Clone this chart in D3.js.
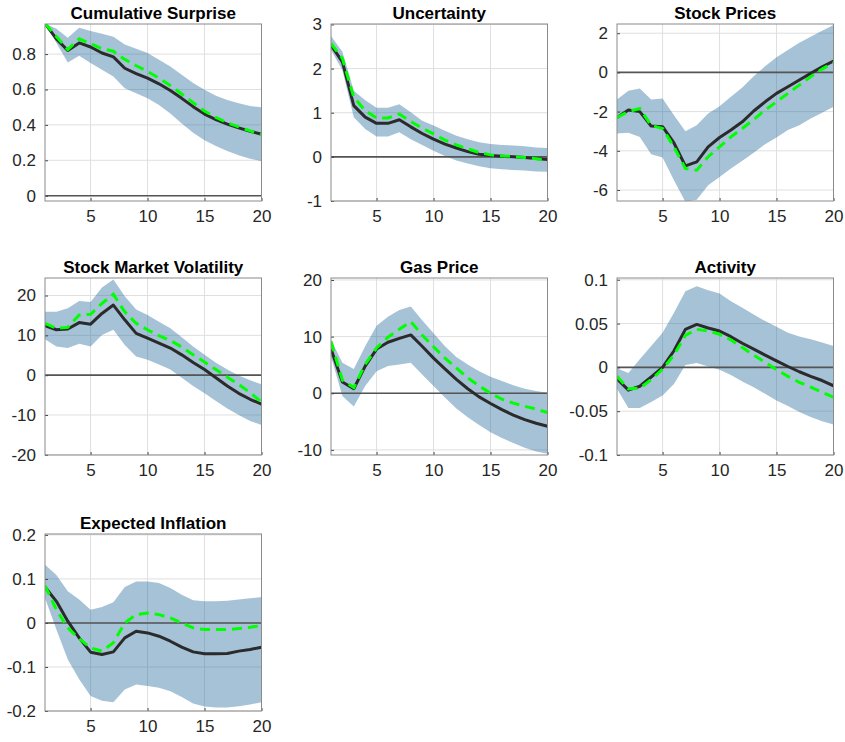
<!DOCTYPE html>
<html>
<head>
<meta charset="utf-8">
<script src="https://cdn.jsdelivr.net/npm/d3@7"></script>
<style>
  body { margin: 0; background: #fff; }
  text { font-family: "Liberation Sans", Arial, sans-serif; }
</style>
</head>
<body>
<div id="chart-area"></div>
<script>
// horizons
var horizon = [1,2,3,4,5,6,7,8,9,10,11,12,13,14,15,16,17,18,19,20];
var xTicks = [5, 10, 15, 20];

// Cumulative Surprise
var surpriseMed = [0.973,0.886,0.82,0.863,0.84,0.806,0.784,0.72,0.69,0.664,0.632,0.594,0.55,0.503,0.461,0.43,0.404,0.383,0.364,0.347];
var surpriseAlt = [0.973,0.9,0.826,0.886,0.86,0.83,0.816,0.77,0.734,0.702,0.664,0.622,0.575,0.526,0.478,0.442,0.412,0.389,0.366,0.345];
var surpriseHi  = [0.973,0.943,0.892,0.949,0.93,0.915,0.898,0.854,0.83,0.806,0.768,0.73,0.683,0.636,0.598,0.565,0.541,0.522,0.507,0.499];
var surpriseLo  = [0.973,0.863,0.753,0.791,0.75,0.712,0.674,0.607,0.579,0.55,0.512,0.465,0.408,0.355,0.313,0.281,0.252,0.228,0.209,0.195];

// Uncertainty
var uncMed = [2.53,2.15,1.16,0.9,0.76,0.76,0.84,0.68,0.53,0.4,0.29,0.2,0.12,0.06,0.03,0.015,0,-0.015,-0.04,-0.06];
var uncAlt = [2.57,2.23,1.35,1.05,0.88,0.88,0.97,0.8,0.65,0.52,0.38,0.27,0.18,0.1,0.045,0.02,0.01,-0.015,-0.045,-0.09];
var uncHi  = [2.74,2.38,1.5,1.28,1.11,1.11,1.19,1.01,0.82,0.71,0.59,0.48,0.4,0.33,0.29,0.27,0.26,0.24,0.21,0.2];
var uncLo  = [2.42,1.96,0.9,0.63,0.46,0.46,0.56,0.4,0.27,0.14,0.02,-0.08,-0.15,-0.21,-0.26,-0.28,-0.3,-0.31,-0.33,-0.34];

// Stock Prices
var stockMed = [-2.3,-1.92,-2.0,-2.74,-2.77,-3.6,-4.77,-4.56,-3.8,-3.32,-2.94,-2.52,-1.97,-1.5,-1.07,-0.73,-0.39,-0.05,0.29,0.58];
var stockAlt = [-2.3,-2.0,-1.84,-2.7,-2.86,-3.8,-4.9,-4.99,-4.3,-3.8,-3.29,-2.86,-2.4,-1.92,-1.5,-1.07,-0.65,-0.22,0.17,0.49];
var stockHi  = [-1.38,-0.94,-0.82,-1.38,-1.33,-2.18,-3.0,-2.69,-2.09,-1.72,-1.24,-0.77,-0.19,0.32,0.77,1.14,1.51,1.82,2.13,2.42];
var stockLo  = [-3.11,-3.08,-3.29,-4.17,-4.34,-5.5,-6.6,-6.49,-5.76,-5.33,-4.9,-4.51,-4.1,-3.66,-3.32,-2.94,-2.69,-2.35,-2.06,-1.75];

// Stock Market Volatility
var volMed = [12.4,11.4,11.6,13.2,12.8,15.5,17.6,13.9,10.5,9.3,8.05,6.8,5.1,3.2,1.4,-0.66,-2.74,-4.56,-6.06,-7.3];
var volAlt = [13.0,11.8,12.0,15.1,15.3,18.0,20.3,15.9,13.0,11.4,9.9,8.7,7.05,5.1,3.3,1.4,-0.5,-2.3,-4.4,-6.7];
var volHi  = [15.9,15.9,16.8,18.6,18.4,22.0,24.0,19.8,16.5,15.1,13.4,11.8,9.5,7.2,5.1,3.1,1.4,-0.1,-1.3,-2.3];
var volLo  = [9.0,7.2,6.8,7.9,7.2,10.1,11.4,7.6,4.7,3.9,2.7,1.4,-0.66,-2.74,-4.56,-6.5,-8.4,-10.0,-11.5,-12.5];

// Gas Price
var gasMed = [7.8,2.0,0.8,4.8,7.8,9.0,9.7,10.3,8.3,6.2,4.3,2.45,0.8,-0.64,-1.8,-2.9,-3.85,-4.66,-5.3,-5.83];
var gasAlt = [9.15,2.3,1.0,5.1,8.0,9.9,11.3,12.65,10.3,8.2,6.2,4.5,2.7,1.3,0,-1.05,-1.75,-2.3,-2.8,-3.4];
var gasHi  = [9.45,5.4,4.3,8.3,11.9,13.5,14.7,15.3,12.9,10.6,8.3,6.4,5.1,3.9,2.9,2.15,1.4,0.8,0.4,0.1];
var gasLo  = [6.5,-0.47,-2.33,1.3,3.9,4.8,5.1,5.4,3.3,1.3,-0.76,-2.7,-4.25,-5.6,-6.9,-7.9,-8.8,-9.6,-10.3,-10.7];

// Activity
var actMed = [-0.013,-0.026,-0.0215,-0.011,0,0.019,0.0434,0.049,0.045,0.0415,0.035,0.0275,0.0208,0.014,0.0075,0.001,-0.005,-0.0102,-0.015,-0.021];
var actAlt = [-0.0102,-0.0245,-0.0238,-0.014,-0.002,0.014,0.0366,0.0434,0.0415,0.0377,0.0313,0.0226,0.014,0.0057,-0.0026,-0.0102,-0.017,-0.0226,-0.0283,-0.034];
var actHi  = [-0.001,-0.0064,0.0094,0.0245,0.0396,0.0623,0.0868,0.0925,0.088,0.0842,0.0755,0.068,0.0604,0.0528,0.0464,0.0396,0.0351,0.032,0.0283,0.0245];
var actLo  = [-0.0245,-0.0464,-0.0464,-0.0396,-0.032,-0.0189,0.0026,0.0049,0.0011,-0.0026,-0.0087,-0.0162,-0.0226,-0.0302,-0.0377,-0.0442,-0.051,-0.0566,-0.0615,-0.0653];

// Expected Inflation
var inflMed = [0.0815,0.049,0.004,-0.034,-0.0664,-0.0717,-0.0657,-0.034,-0.0189,-0.0226,-0.0302,-0.0415,-0.055,-0.0657,-0.07,-0.07,-0.0694,-0.064,-0.0604,-0.055];
var inflAlt = [0.0845,0.03,-0.0113,-0.036,-0.0566,-0.064,-0.045,0,0.0189,0.0226,0.0189,0.0113,0,-0.0113,-0.015,-0.015,-0.015,-0.0128,-0.0098,-0.006];
var inflHi  = [0.132,0.109,0.0717,0.053,0.03,0.036,0.0468,0.0815,0.0943,0.0943,0.0906,0.0792,0.0642,0.0513,0.049,0.049,0.0506,0.053,0.0558,0.0589];
var inflLo  = [0.0566,-0.015,-0.083,-0.128,-0.166,-0.177,-0.18,-0.151,-0.14,-0.143,-0.147,-0.155,-0.168,-0.183,-0.19,-0.192,-0.192,-0.189,-0.185,-0.18];

var titles = ["Cumulative Surprise","Uncertainty","Stock Prices","Stock Market Volatility","Gas Price","Activity","Expected Inflation"];
var yLims = [[-0.03,0.97],[-1,3.01],[-6.56,2.47],[-20.05,24.4],[-10.9,20.35],[-0.1,0.102],[-0.2,0.202]];
var yTicks = [
    [0,0.2,0.4,0.6,0.8],
    [-1,0,1,2,3],
    [-6,-4,-2,0,2],
    [-20,-10,0,10,20],
    [-10,0,10,20],
    [-0.1,-0.05,0,0.05,0.1],
    [-0.2,-0.1,0,0.1,0.2]
];
var series = [
    [surpriseMed, surpriseAlt, surpriseLo, surpriseHi],
    [uncMed, uncAlt, uncLo, uncHi],
    [stockMed, stockAlt, stockLo, stockHi],
    [volMed, volAlt, volLo, volHi],
    [gasMed, gasAlt, gasLo, gasHi],
    [actMed, actAlt, actLo, actHi],
    [inflMed, inflAlt, inflLo, inflHi]
];

// layout of the 3x3 grid
var colLeft = [45, 331, 617];
var rowTop = [24, 278, 534];
var pw = 216.5, ph = 177;

var svg = d3.select("#chart-area")
    .append("svg")
        .attr("width", 845)
        .attr("height", 742);

titles.forEach(function(title, i) {
    var col = i % 3, row = Math.floor(i / 3);
    var s = series[i];

    var x = d3.scaleLinear().domain([1, 20]).range([0, pw]);
    var y = d3.scaleLinear().domain(yLims[i]).range([ph, 0]);

    var g = svg.append("g")
        .attr("transform", "translate(" + colLeft[col] + "," + rowTop[row] + ")");

    g.append("clipPath").attr("id", "clip" + i)
        .append("rect").attr("width", pw).attr("height", ph);

    // grid
    var grid = g.append("g").attr("class", "grid");
    grid.selectAll(".gx").data(xTicks).enter().append("line")
        .attr("x1", function(d){ return x(d); })
        .attr("x2", function(d){ return x(d); })
        .attr("y1", 0).attr("y2", ph)
        .attr("stroke", "#dfdfdf").attr("stroke-width", 1);
    grid.selectAll(".gy").data(yTicks[i]).enter().append("line")
        .attr("x1", 0).attr("x2", pw)
        .attr("y1", function(d){ return y(d); })
        .attr("y2", function(d){ return y(d); })
        .attr("stroke", "#dfdfdf").attr("stroke-width", 1);

    var plot = g.append("g").attr("clip-path", "url(#clip" + i + ")");

    var band = d3.area()
        .x(function(d, k){ return x(horizon[k]); })
        .y0(function(d, k){ return y(s[2][k]); })
        .y1(function(d, k){ return y(s[3][k]); });
    plot.append("path")
        .datum(horizon)
        .attr("d", band)
        .attr("fill", "rgb(33,103,153)")
        .attr("fill-opacity", 0.4);

    // zero line
    plot.append("line")
        .attr("x1", 0).attr("x2", pw)
        .attr("y1", y(0)).attr("y2", y(0))
        .attr("stroke", "#555").attr("stroke-width", 1.6);

    var line = function(vals) {
        return d3.line()
            .x(function(d, k){ return x(horizon[k]); })
            .y(function(d, k){ return y(vals[k]); })(horizon);
    };
    plot.append("path")
        .attr("d", line(s[0]))
        .attr("fill", "none")
        .attr("stroke", "#2b2b2b")
        .attr("stroke-width", 3)
        .attr("stroke-linejoin", "round");
    plot.append("path")
        .attr("d", line(s[1]))
        .attr("fill", "none")
        .attr("stroke", "#00ff00")
        .attr("stroke-width", 3)
        .attr("stroke-dasharray", "10,6");

    // axes
    var xAxisCall = d3.axisBottom(x).tickValues(xTicks).tickSize(-3).tickPadding(9)
        .tickFormat(d3.format("d"));
    var xa = g.append("g")
        .attr("transform", "translate(0," + ph + ")")
        .call(xAxisCall);
    var yAxisCall = d3.axisLeft(y).tickValues(yTicks[i]).tickSize(-3).tickPadding(9)
        .tickFormat(function(d){ return String(d); });
    var ya = g.append("g").call(yAxisCall);
    [xa, ya].forEach(function(a) {
        a.select(".domain").remove();
        a.selectAll(".tick line").attr("stroke", "#444");
        a.selectAll(".tick text")
            .attr("font-size", "17px")
            .attr("fill", "#262626");
    });

    // box
    g.append("rect")
        .attr("width", pw).attr("height", ph)
        .attr("fill", "none")
        .attr("stroke", "#8a8a8a")
        .attr("stroke-width", 1);

    g.append("text")
        .attr("x", pw / 2)
        .attr("y", -5.5)
        .attr("text-anchor", "middle")
        .attr("font-size", "17px")
        .attr("font-weight", "bold")
        .attr("fill", "#000")
        .text(title);
});
</script>
</body>
</html>
